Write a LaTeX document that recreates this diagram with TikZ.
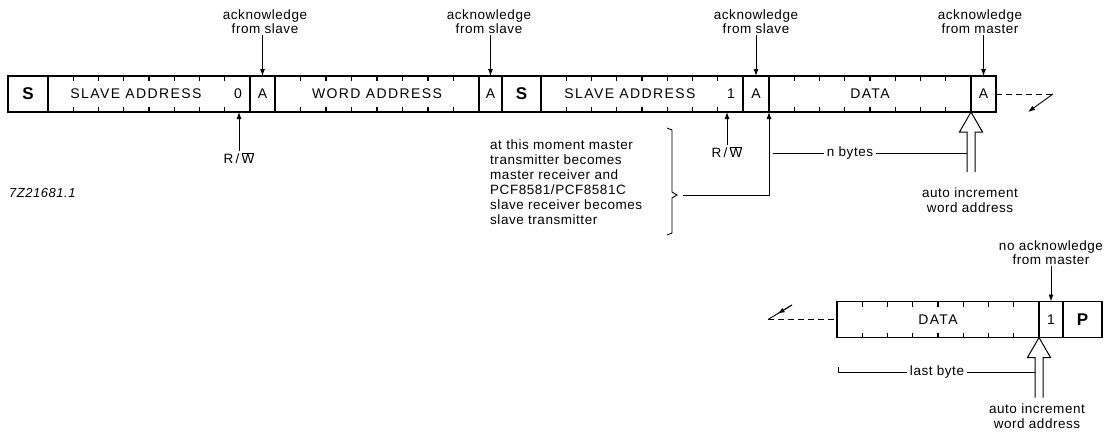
\documentclass[tikz,border=0pt]{standalone}
\usepackage{fontspec}
\setmainfont{Liberation Sans}[LetterSpace=10]
\newfontfamily\labfont{Liberation Sans}[LetterSpace=4]
\usetikzlibrary{calc,arrows.meta}
\newcommand\bitticks[1]{%
  \foreach \k in {1,...,7}{%
    \draw[tick] ($(#1.north west)!\k/8!(#1.north east)$) -- ++(0,5);
    \draw[tick] ($(#1.south west)!\k/8!(#1.south east)$) -- ++(0,-5);
  }}
\newcommand\hollowarr[1]{%
  \draw[hol] ($(#1)+(-4,60)$) -- ++(0,-40) -- ++(-7.5,0) -- (#1) -- ++(11.5,20) -- ++(-7.5,0) -- ++(0,40);}
\begin{document}
\begin{tikzpicture}[x=1pt,y=-1pt,
  box/.style={draw, line width=1.4pt, minimum height=36pt, minimum width=#1, inner sep=0pt, outer sep=0pt, anchor=west},
  tick/.style={line width=1.1pt},
  captext/.style={font=\fontsize{14}{15}\selectfont, inner sep=0pt},
  bigb/.style={font=\fontsize{17}{17}\selectfont\bfseries, inner sep=0pt},
  lab/.style={font=\labfont\fontsize{13.5}{14.5}\selectfont, inner sep=1pt, align=center},
  arr/.style={line width=0.9pt, -{Latex[length=7pt,width=5pt]}},
  thinline/.style={line width=0.9pt},
  hol/.style={line width=1pt},
  dsh/.style={line width=1pt, dash pattern=on 6pt off 4pt}]
\useasboundingbox (0,0) rectangle (1112,439);

% ---- top frame
\node[box=40pt]  (S1)  at (8,94)   {};
\node[box=202pt] (SA1) at (48,94)  {};
\node[box=25pt]  (A1)  at (250,94) {};
\node[box=204pt] (WA)  at (275,94) {};
\node[box=23pt]  (A2)  at (479,94) {};
\node[box=39pt]  (S2)  at (502,94) {};
\node[box=202pt] (SA2) at (541,94) {};
\node[box=26pt]  (A3)  at (743,94) {};
\node[box=202pt] (D1)  at (769,94) {};
\node[box=25pt]  (A4)  at (971,94) {};
\bitticks{SA1}\bitticks{WA}\bitticks{SA2}\bitticks{D1}

\node[bigb] (tS1) at (S1) {S};
\node[captext] (tSA1) at (136,94) {SLAVE ADDRESS};
\node[captext] (t0) at (238,94) {0};
\node[captext] (tA1) at (A1) {A};
\node[captext] (tWA) at (377,94) {WORD ADDRESS};
\node[captext] (tA2) at (A2) {A};
\node[bigb] (tS2) at (S2) {S};
\node[captext] (tSA2) at (630,94) {SLAVE ADDRESS};
\node[captext] (t1) at (731,94) {1};
\node[captext] (tA3) at (A3) {A};
\node[captext] (tD1) at (D1) {DATA};
\node[captext] (tA4) at (A4) {A};

% acknowledges
\node[lab, anchor=south] (ack1) at (265,35) {acknowledge\\from slave};
\node[lab, anchor=south] (ack2) at (489,35) {acknowledge\\from slave};
\node[lab, anchor=south] (ack3) at (756,35) {acknowledge\\from slave};
\node[lab, anchor=south] (ack4) at (980,35) {acknowledge\\from master};
\draw[arr] (ack1.south -| A1.north) -- (A1.north);
\draw[arr] (ack2.south -| A2.north) -- (A2.north);
\draw[arr] (ack3.south -| A3.north) -- (A3.north);
\draw[arr] (ack4.south -| A4.north) -- (A4.north);

% R/W
\node[lab, anchor=north] (rw1) at (239,151) {R\,/\,$\overline{\hbox{W}}$};
\draw[arr] (rw1.north) -- (rw1.north |- SA1.south);
\node[lab, anchor=north] (rw2) at (727,145) {R\,/\,$\overline{\hbox{W}}$};
\draw[arr] (rw2.north) -- (rw2.north |- SA2.south);

\node[lab, anchor=west, font=\labfont\fontsize{13}{13}\selectfont\itshape] (code) at (8,193) {7Z21681.1};

% note and brace
\node[lab, align=left, anchor=west, font=\labfont\fontsize{13.5}{15}\selectfont] (note) at (489,182)
  {at this moment master\\transmitter becomes\\master receiver and\\PCF8581/PCF8581C\\slave receiver becomes\\slave transmitter};
\draw[thinline] (667,128) -- (672,130) -- (672,192) -- (677,195) -- (672,198) -- (672,233) -- (667,235);
\coordinate (brTip) at (683,195);
\draw[arr] (brTip) -- (brTip -| A3.south east) -- (A3.south east);

% n bytes and auto increment (top)
\node[lab, inner sep=3pt] (nb) at (850,153) {n bytes};
\draw[thinline] ($(A3.south east |- nb)+(4,0)$) -- (nb.west);
\draw[thinline] (nb.east) -- ($(D1.south east |- nb)+(-4,0)$);
\hollowarr{D1.south east}
\node[lab, anchor=north] (ai1) at (970,187) {auto increment\\word address};

% dashed continuation (top)
\coordinate (c1) at (1053,94);
\coordinate (c2) at (1028,112);
\draw[dsh] (A4.east) -- (c1);
\draw[arr] (c1) -- (c2);

% ---- bottom frame
\node[box=202pt] (D2) at (837,319.5)  {};
\node[box=24pt]  (B1) at (1039,319.5) {};
\node[box=39pt]  (P)  at (1063,319.5) {};
\bitticks{D2}
\node[captext] (tD2) at (D2) {DATA};
\node[captext] (tB1) at (B1) {1};
\node[bigb] (tP) at (P) {P};

\node[lab, anchor=south] (nack) at (1051,266) {no acknowledge\\from master};
\draw[arr] (nack.south -| B1.north) -- (B1.north);

% dashed continuation (bottom)
\coordinate (c3) at (792,305);
\coordinate (c4) at (768,319.5);
\draw[thinline] (c3) -- (c4);
\draw[arr] (c3) -- ($(c3)!0.6!(c4)$);
\draw[dsh] (c4) -- (D2.west);

% last byte
\node[lab, inner sep=3pt] (lb) at (937,372) {last byte};
\coordinate (lbL) at (838,372);
\draw[thinline] ($(lbL)+(0,-5)$) -- (lbL) -- (lb.west);
\draw[thinline] (lb.east) -- ($(D2.south east |- lb)+(-4,0)$);
\hollowarr{D2.south east}
\node[lab, anchor=north] (ai2) at (1037,403) {auto increment\\word address};
\end{tikzpicture}
\end{document}
